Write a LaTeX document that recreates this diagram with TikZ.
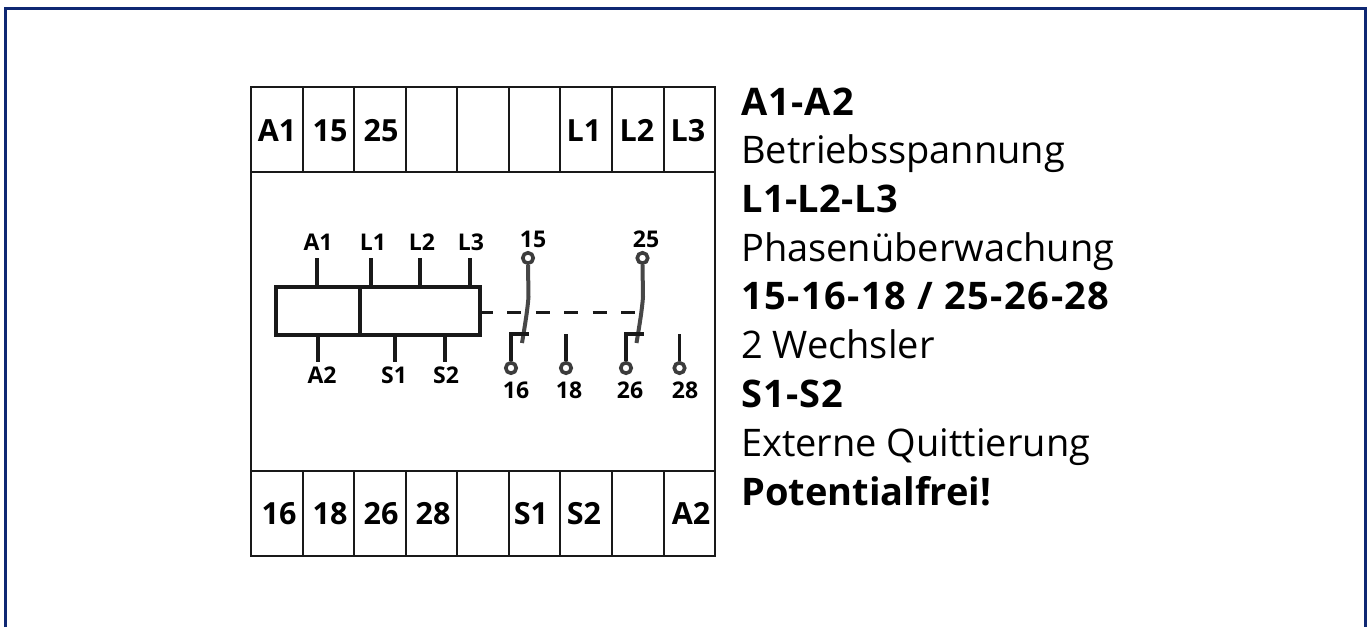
\documentclass[tikz,border=0pt]{standalone}
\usepackage{fontspec}
\setmainfont{Open Sans}
\definecolor{framec}{RGB}{15,40,115}
\definecolor{inkc}{RGB}{25,25,25}
\tikzset{
  x=1pt,y=-1pt,
  wire/.style={draw=inkc,line width=3.8pt},
  thin box/.style={draw=inkc,line width=2pt},
  term/.style={font=\fontsize{30.5}{31}\selectfont\bfseries,text=black,inner sep=0pt,anchor=base},
  sym/.style={font=\fontsize{23}{23}\selectfont\bfseries,text=black,inner sep=0pt,anchor=base},
  pin/.style={circle,draw=inkc!85,line width=3.6pt,fill=white,minimum size=10.5pt,inner sep=0pt},
  blade/.style={draw=inkc!80,line width=4pt},
  head/.style={font=\fontsize{38}{38}\selectfont\bfseries,text=black,inner sep=0pt,anchor=base west},
  body/.style={font=\fontsize{38}{38}\selectfont,text=black,inner sep=0pt,anchor=base west}
}
\begin{document}
\begin{tikzpicture}
\useasboundingbox (0,0) rectangle (1371,627);
\draw[framec,line width=3pt] (5,627) -- (5,8.5) -- (1365.5,8.5) -- (1365.5,627);
% terminal strip
\draw[thin box] (251,87) rectangle (715,556);
\draw[thin box] (251,171.5) -- (715,171.5);
\draw[thin box] (251,470.5) -- (715,470.5);
\foreach \x in {302.5,354,405.5,457,508.5,560,612,664}{
  \draw[thin box] (\x,87) -- (\x,171.5);
  \draw[thin box] (\x,470.5) -- (\x,556);
}
\foreach \x/\t/\n in {277/A1/ta,330/15/tb,381/25/tc,584/L1/td,637/L2/te,688/L3/tf}
  \node[term] (\n) at (\x,141.5) {\t};
\foreach \x/\t/\n in {279/16/ba,330/18/bb,381/26/bc,433/28/bd,531/S1/be,584/S2/bf,691/A2/bg}
  \node[term] (\n) at (\x,524.5) {\t};
% coil
\draw[wire] (276,287) rectangle (480,335);
\draw[wire] (360,287) -- (360,335);
\node[sym] (la1) at (318,250) {A1};
\node[sym] (ll1) at (373,250) {L1};
\node[sym] (ll2) at (422,250) {L2};
\node[sym] (ll3) at (471,250) {L3};
\node[sym] (la2) at (322,383) {A2};
\node[sym] (ls1) at (394,383) {S1};
\node[sym] (ls2) at (446,383) {S2};
\draw[wire] (317,258) -- (317,287);
\draw[wire] (371,258) -- (371,287);
\draw[wire] (420,258) -- (420,287);
\draw[wire] (470,258) -- (470,287);
\draw[wire] (318,335) -- (318,362);
\draw[wire] (395,335) -- (395,362);
\draw[wire] (445,335) -- (445,362);
% mechanical link
\coordinate (dashstart) at (479,312);
\coordinate (dashend) at (637,312);
\draw[draw=inkc,line width=3pt,dash pattern=on 14pt off 14.4pt] (dashstart) -- (dashend);
% contacts
\node[sym] (n15) at (533,247) {15};
\node[sym] (n25) at (646,247) {25};
\node[sym] (n16) at (516,398) {16};
\node[sym] (n18) at (569,398) {18};
\node[sym] (n26) at (630,398) {26};
\node[sym] (n28) at (685,398) {28};
\node[pin] (p15) at (528,258) {};
\node[pin] (p25) at (642.5,258) {};
\node[pin] (p16) at (511,368) {};
\node[pin] (p18) at (566,368) {};
\node[pin] (p26) at (626,368) {};
\node[pin] (p28) at (679.5,368) {};
\draw[blade] (p15.south) -- (528.5,297) .. controls (527.5,310) and (525,325) .. (522,343);
\draw[blade] (p25.south) -- (643,297) .. controls (642,310) and (639.5,325) .. (636.5,343);
\draw[wire,line join=miter] (p16.north) -- (511,334) -- (529,334);
\draw[wire] (p18.north) -- (566,334);
\draw[wire,line join=miter] (p26.north) -- (626,334) -- (644,334);
\draw[wire] (p28.north) -- (679.5,334);
% legend
\node[head] (h1) at (741,115) {\addfontfeature{LetterSpace=3}A1-A2};
\node[body] (b1) at (741,163) {Betriebsspannung};
\node[head] (h2) at (741,212) {\addfontfeature{LetterSpace=1}L1-L2-L3};
\node[body] (b2) at (741,261) {Phasenüberwachung};
\node[head] (h3) at (741,309) {\addfontfeature{LetterSpace=3.9}15-16-18 / 25-26-28};
\node[body] (b3) at (741,358) {2 Wechsler};
\node[head] (h4) at (741,407) {\addfontfeature{LetterSpace=3}S1-S2};
\node[body] (b4) at (741,456) {Externe Quittierung};
\node[head] (h5) at (741,505) {Potentialfrei!};
\end{tikzpicture}
\end{document}
